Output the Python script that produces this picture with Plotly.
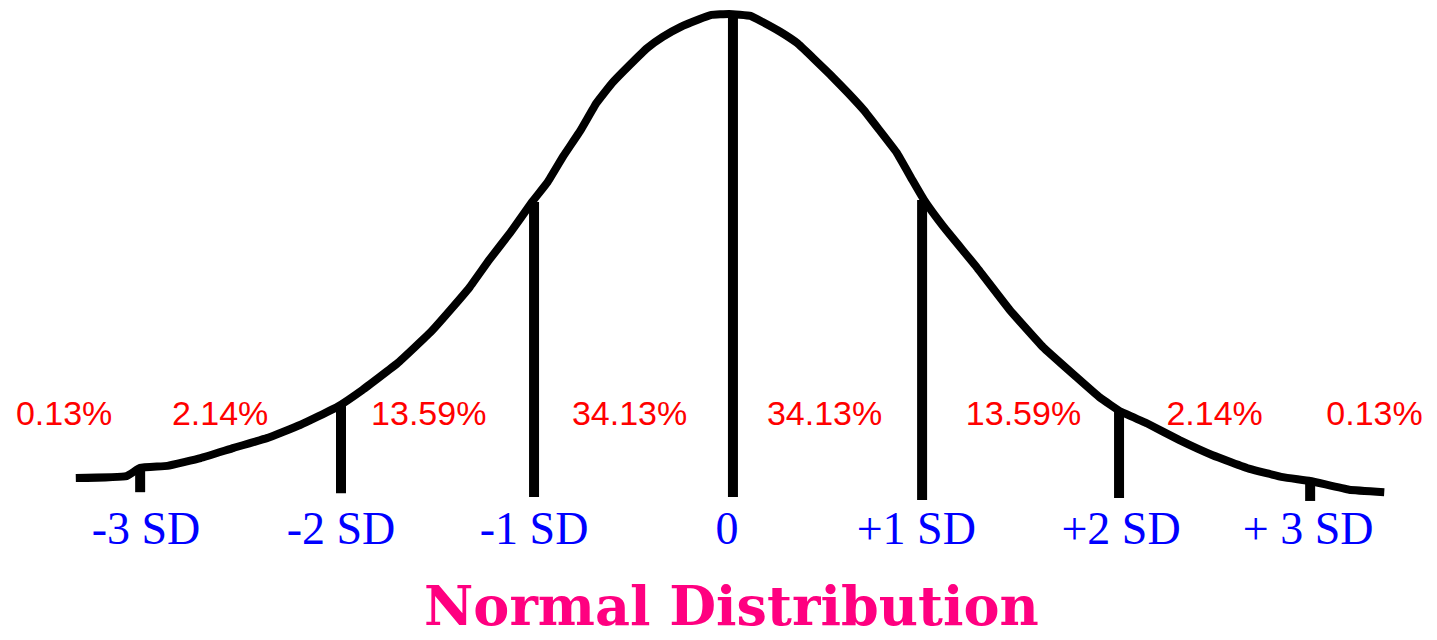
import plotly.graph_objects as go

# curve: x in SD units, y as % of peak height
curve_x = [-3.36, -3.10, -3.03, -2.89, -2.72, -2.55, -2.38, -2.21, -2.02, -1.89,
           -1.71, -1.54, -1.44, -1.34, -1.24, -1.13, -1.02, -0.94, -0.86, -0.77,
           -0.69, -0.61, -0.52, -0.43, -0.35, -0.26, -0.17, -0.10, -0.01, 0.10,
           0.16, 0.25, 0.34, 0.42, 0.51, 0.60, 0.68, 0.76, 0.85, 0.93,
           0.99, 1.09, 1.26, 1.43, 1.60, 1.77, 1.89, 2.00, 2.13, 2.30,
           2.47, 2.66, 2.83, 2.97, 3.17, 3.35]
curve_y = [4.5, 4.9, 6.6, 7.0, 8.6, 10.7, 12.7, 15.4, 19.1, 22.6,
           28.1, 34.5, 39.0, 43.7, 49.3, 55.0, 61.2, 65.3, 70.6, 76.0,
           81.5, 85.6, 89.3, 92.8, 95.1, 97.1, 98.6, 99.6, 99.8, 99.4,
           98.2, 96.2, 93.8, 90.8, 87.3, 83.6, 80.1, 76.0, 71.3, 65.7,
           61.6, 56.1, 47.8, 39.0, 31.4, 25.3, 21.1, 18.1, 15.8, 12.3,
           9.2, 6.4, 4.7, 3.9, 2.1, 1.6]

# vertical SD markers
sd_pos = [-3.03, -2.00, -1.01, 0.01, 0.98, 1.99, 2.97]
sd_top = [6.8, 19.9, 61.2, 99.8, 61.6, 18.5, 4.1]
sd_bottom = [1.6, 1.4, 0.6, 0.6, 0.0, 0.4, -0.2]

sd_labels = ["-3 SD", "-2 SD", "-1 SD", "0", "+1 SD", "+2 SD", "+ 3 SD"]
sd_label_x = [-3.00, -2.00, -1.01, -0.02, 0.95, 2.00, 2.96]

pct_labels = ["0.13%", "2.14%", "13.59%", "34.13%", "34.13%", "13.59%", "2.14%", "0.13%"]
pct_x = [-3.42, -2.62, -1.55, -0.52, 0.48, 1.50, 2.48, 3.30]

fig = go.Figure()

fig.add_trace(go.Scatter(x=curve_x, y=curve_y, mode="lines",
                         line=dict(color="black", width=8, shape="spline", smoothing=0.3),
                         hoverinfo="skip"))

for x, top, bottom in zip(sd_pos, sd_top, sd_bottom):
    fig.add_trace(go.Scatter(x=[x, x], y=[bottom, top], mode="lines",
                             line=dict(color="black", width=10),
                             hoverinfo="skip"))

fig.add_trace(go.Scatter(x=pct_x, y=[17.2] * len(pct_x), mode="text",
                         text=pct_labels, hoverinfo="skip",
                         textfont=dict(family="Liberation Sans", size=34, color="#ff0000")))

fig.add_trace(go.Scatter(x=sd_label_x, y=[-6.6] * len(sd_label_x), mode="text",
                         text=sd_labels, hoverinfo="skip",
                         textfont=dict(family="Liberation Serif", size=46, color="#0000ff")))

fig.add_annotation(x=0.0, y=-21.8, text="<b>Normal Distribution</b>", showarrow=False,
                   font=dict(family="DejaVu Serif", size=54, color="#ff0080"))

fig.update_layout(
    width=1437, height=640,
    margin=dict(l=0, r=0, t=0, b=0),
    showlegend=False,
    paper_bgcolor="white", plot_bgcolor="white",
)
fig.update_xaxes(range=[-3.7487, 3.6205], visible=False)
fig.update_yaxes(range=[-28.75, 102.67], visible=False)

# page body has a default 8px margin, drop it so the chart sits at the corner
fig.write_html("out.html", config={"displayModeBar": False},
               post_script="document.body.style.margin='0';")
